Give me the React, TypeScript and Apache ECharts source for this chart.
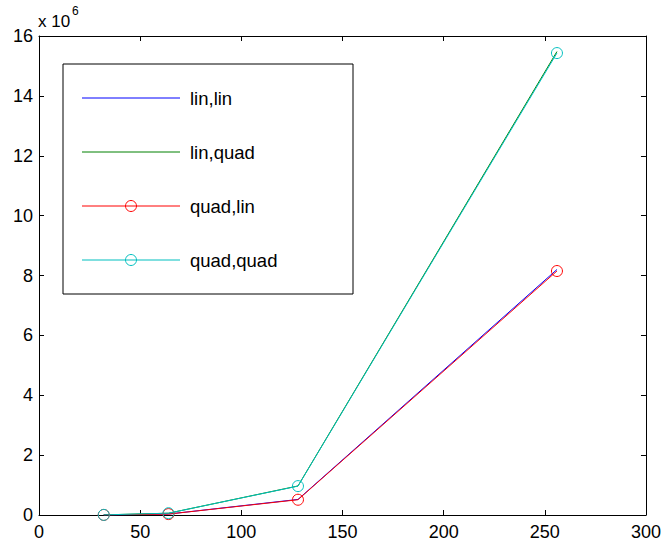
import React, { useEffect, useRef } from "react";
import * as echarts from "echarts";

const nValues = [32, 64, 128, 256];
const linLin = [2000, 32000, 520000, 8200000];
const linQuad = [4000, 60000, 970000, 15480000];
const quadLin = [2000, 30000, 510000, 8150000];
const quadQuad = [4000, 60000, 965000, 15430000];
const seriesNames = ["lin,lin", "lin,quad", "quad,lin", "quad,quad"];
const seriesColors = ["#0000ff", "#008000", "#ff0000", "#00bfbf"];
const withMarkers = [false, false, true, true];
const xTicks = { min: 0, max: 300, interval: 50 };
const yTicks = { min: 0, max: 16000000, interval: 2000000 };

const FONT = "Liberation Sans, Arial, Helvetica, sans-serif";

export default function App() {
  const ref = useRef<HTMLDivElement>(null);
  useEffect(() => {
    document.body.style.margin = "0";
    const chart = echarts.init(ref.current!, null, { renderer: "svg" });
    const data = [linLin, linQuad, quadLin, quadQuad];
    const axisCommon = {
      axisLine: { show: true, onZero: false, lineStyle: { color: "#000", width: 1 } },
      axisTick: { show: true, inside: true, length: 5, lineStyle: { color: "#000" } },
      splitLine: { show: false },
    };

    // legend drawn with graphic elements
    const legendBox = { x: 63, y: 64, w: 290, h: 230 };
    const rowY0 = 98;
    const rowGap = 54;
    const legendEls: any[] = [
      {
        type: "rect",
        z: 5,
        shape: { x: legendBox.x, y: legendBox.y, width: legendBox.w, height: legendBox.h },
        style: { fill: "#fff", stroke: "#000", lineWidth: 1 },
      },
    ];
    seriesNames.forEach((name, i) => {
      const y = rowY0 + i * rowGap;
      legendEls.push({
        type: "line",
        z: 6,
        shape: { x1: 82, y1: y, x2: 180, y2: y },
        style: { stroke: seriesColors[i], lineWidth: 1 },
      });
      if (withMarkers[i]) {
        legendEls.push({
          type: "circle",
          z: 7,
          shape: { cx: 131, cy: y, r: 5.5 },
          style: { fill: "none", stroke: seriesColors[i], lineWidth: 1 },
        });
      }
      legendEls.push({
        type: "text",
        z: 7,
        x: 190,
        y: y,
        style: {
          text: name,
          fill: "#000",
          fontSize: 18.5,
          fontFamily: FONT,
          verticalAlign: "middle",
          align: "left",
        },
      });
    });

    chart.setOption({
      animation: false,
      backgroundColor: "#fff",
      textStyle: { fontFamily: FONT },
      grid: { left: 39, right: 18, top: 36, bottom: 30, containLabel: false },
      xAxis: [
        {
          type: "value",
          position: "bottom",
          ...xTicks,
          ...axisCommon,
          axisLabel: { color: "#000", fontSize: 18, fontFamily: FONT, margin: 8 },
        },
        {
          type: "value",
          position: "top",
          ...xTicks,
          ...axisCommon,
          axisLabel: { show: false },
        },
      ],
      yAxis: [
        {
          type: "value",
          position: "left",
          ...yTicks,
          ...axisCommon,
          axisLabel: {
            color: "#000",
            fontSize: 18,
            fontFamily: FONT,
            margin: 6,
            formatter: (v: number) => String(v / 1000000),
          },
        },
        {
          type: "value",
          position: "right",
          ...yTicks,
          ...axisCommon,
          axisLabel: { show: false },
        },
      ],
      graphic: [
        ...legendEls,
        {
          type: "text",
          left: 38,
          top: 13,
          style: { text: "x 10", fill: "#000", fontSize: 17, fontFamily: FONT },
        },
        {
          type: "text",
          left: 72,
          top: 5,
          style: { text: "6", fill: "#000", fontSize: 12, fontFamily: FONT },
        },
      ],
      series: seriesNames.map((name, i) => ({
        name,
        type: "line",
        xAxisIndex: 0,
        yAxisIndex: 0,
        data: nValues.map((n, j) => [n, data[i][j]]),
        symbol: withMarkers[i] ? "circle" : "none",
        symbolSize: 11,
        showSymbol: withMarkers[i],
        color: seriesColors[i],
        lineStyle: { color: seriesColors[i], width: 1 },
        itemStyle: {
          color: "rgba(0,0,0,0)",
          borderColor: seriesColors[i],
          borderWidth: 1,
        },
      })),
    });
    return () => chart.dispose();
  }, []);
  return <div ref={ref} style={{ width: 664, height: 545 }} />;
}
